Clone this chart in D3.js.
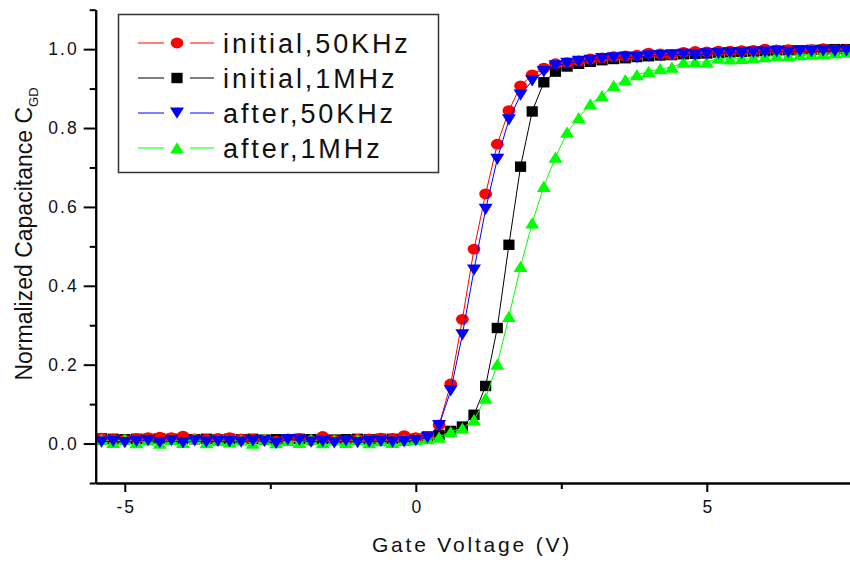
<!DOCTYPE html>
<html>
<head>
<meta charset="utf-8">
<script src="https://cdn.jsdelivr.net/npm/d3@7"></script>
<style>
  html, body { margin: 0; padding: 0; background: #fff; }
  svg { display: block; font-family: "Liberation Sans", Arial, sans-serif; }
</style>
</head>
<body>
<svg id="chart" width="850" height="563"></svg>
<script>
// Gate voltage sweep (V)
const gateVoltage = [
  -5.4,-5.2,-5.0,-4.8,-4.6,-4.4,-4.2,-4.0,-3.8,-3.6,-3.4,-3.2,-3.0,-2.8,-2.6,-2.4,-2.2,-2.0,-1.8,-1.6,-1.4,-1.2,-1.0,-0.8,-0.6,-0.4,-0.2,
  0.0,0.2,0.4,0.6,0.8,1.0,1.2,1.4,1.6,1.8,2.0,2.2,2.4,2.6,2.8,3.0,3.2,3.4,3.6,3.8,4.0,4.2,4.4,4.6,4.8,5.0,5.2,5.4,5.6,5.8,6.0,6.2,6.4,6.6,6.8,7.0,7.2,7.4
];

// Normalized C_GD per measurement
const initial50k = [
  0.014,0.012,0.010,0.013,0.015,0.016,0.015,0.019,0.012,0.011,0.013,0.015,0.012,0.011,0.009,0.006,0.012,0.013,0.008,0.018,0.009,0.008,0.011,0.012,0.014,0.013,0.020,
  0.015,0.016,0.047,0.151,0.315,0.493,0.633,0.759,0.844,0.907,0.935,0.952,0.963,0.966,0.970,0.975,0.978,0.981,0.983,0.985,0.990,0.988,0.986,0.992,0.994,0.993,0.995,0.995,0.996,0.997,1.000,0.998,0.999,0.996,0.999,1.001,0.998,0.999
];
const initial1M = [
  0.013,0.012,0.011,0.012,0.012,0.013,0.012,0.012,0.011,0.012,0.011,0.012,0.011,0.012,0.010,0.011,0.011,0.012,0.011,0.012,0.010,0.011,0.012,0.011,0.012,0.012,0.013,
  0.012,0.018,0.022,0.032,0.043,0.073,0.146,0.293,0.504,0.702,0.842,0.916,0.943,0.956,0.963,0.968,0.972,0.975,0.977,0.980,0.982,0.984,0.985,0.987,0.988,0.989,0.991,0.992,0.993,0.994,0.995,0.996,0.997,0.997,0.998,0.999,1.000,1.000
];
const after50k = [
  0.004,0.006,0.003,0.006,0.008,0.003,0.008,0.002,0.007,0.004,0.006,0.005,0.004,0.007,0.006,0.001,0.010,0.009,0.004,0.006,0.002,0.007,0.003,0.005,0.006,0.004,0.005,
  0.008,0.015,0.046,0.134,0.276,0.440,0.594,0.721,0.821,0.884,0.920,0.943,0.958,0.964,0.969,0.972,0.976,0.978,0.980,0.979,0.983,0.984,0.986,0.987,0.985,0.988,0.989,0.991,0.990,0.992,0.993,0.994,0.992,0.995,0.994,0.996,0.995,0.996
];
const after1M = [
  0.010,0.003,0.011,0.002,0.009,0.001,0.010,0.003,0.013,0.002,0.008,0.004,0.009,0.001,0.011,0.002,0.008,0.003,0.011,0.002,0.009,0.003,0.010,0.002,0.007,0.003,0.008,
  0.010,0.012,0.016,0.030,0.039,0.060,0.115,0.201,0.322,0.449,0.559,0.652,0.726,0.789,0.826,0.861,0.882,0.908,0.922,0.935,0.943,0.950,0.954,0.967,0.968,0.967,0.977,0.975,0.976,0.978,0.981,0.984,0.983,0.986,0.987,0.989,0.990,0.992
];

const seriesNames = ["initial,50KHz", "initial,1MHz", "after,50KHz", "after,1MHz"];
const seriesColors = ["#ff0000", "#000000", "#0000ff", "#00ff00"];
const seriesShapes = ["circle", "square", "triangleDown", "triangleUp"];
const seriesValues = [initial50k, initial1M, after50k, after1M];

const xMajorTicks = [-5, 0, 5];
const xMinorTicks = [-2.5, 2.5];
const yMajorTicks = [0.0, 0.2, 0.4, 0.6, 0.8, 1.0];
const yMinorTicks = [-0.1, 0.1, 0.3, 0.5, 0.7, 0.9, 1.1];

const svg = d3.select("#chart");
const plot = { left: 95.7, right: 852.3, top: 9.7, bottom: 483 };

const x = d3.scaleLinear().domain([-5.5, 7.5]).range([plot.left, plot.right]);
const y = d3.scaleLinear().domain([-0.1, 1.1]).range([plot.bottom, plot.top]);

// marker shapes
function marker(sel, shape, color) {
  if (shape === "circle") {
    sel.append("ellipse").attr("rx", 6.4).attr("ry", 5.4).attr("fill", color);
  } else if (shape === "square") {
    sel.append("rect").attr("x", -5.6).attr("y", -5.2).attr("width", 11.2).attr("height", 10.4).attr("fill", color);
  } else if (shape === "triangleDown") {
    sel.append("path").attr("d", "M-7,-5.5L7,-5.5L0,5.8Z").attr("fill", color);
  } else {
    sel.append("path").attr("d", "M-7,5.5L7,5.5L0,-5.8Z").attr("fill", color);
  }
}

// data series: connecting lines then markers
const drawOrder = [1, 0, 3, 2];
svg.append("defs").append("clipPath").attr("id", "plotclip")
  .append("rect").attr("x", plot.left).attr("y", 0).attr("width", 850 - plot.left).attr("height", plot.bottom);

const dataLayer = svg.append("g").attr("clip-path", "url(#plotclip)");
const line = d3.line().x(d => x(d[0])).y(d => y(d[1]));

drawOrder.forEach(si => {
  const pts = gateVoltage.map((v, i) => [v, seriesValues[si][i]]);
  const g = dataLayer.append("g");
  g.append("path").datum(pts).attr("d", line)
    .attr("fill", "none").attr("stroke", seriesColors[si]).attr("stroke-width", 1);
  g.selectAll("g.pt").data(pts).join("g").attr("class", "pt")
    .attr("transform", d => `translate(${x(d[0])},${y(d[1])})`)
    .each(function () { marker(d3.select(this), seriesShapes[si], seriesColors[si]); });
});

// axes
function styleAxis(g) {
  g.select(".domain").attr("stroke", "#000").attr("stroke-width", 2);
  g.selectAll(".tick line").attr("stroke", "#000").attr("stroke-width", 2);
  g.selectAll(".tick text").attr("fill", "#111").attr("font-size", 17.5)
    .attr("font-family", "'Liberation Sans', Arial, sans-serif").style("letter-spacing", "2px");
}

const xAxisMinor = svg.append("g").attr("transform", `translate(0,${plot.bottom})`)
  .call(d3.axisBottom(x).tickValues(xMinorTicks).tickSize(6).tickSizeOuter(0).tickFormat(""));
styleAxis(xAxisMinor);
const xAxis = svg.append("g").attr("transform", `translate(0,${plot.bottom})`)
  .call(d3.axisBottom(x).tickValues(xMajorTicks).tickSize(9).tickPadding(9).tickSizeOuter(0)
    .tickFormat(d => String(d)));
styleAxis(xAxis);
xAxis.selectAll(".tick text").attr("dx", "1px");

const yAxisMinor = svg.append("g").attr("transform", `translate(${plot.left},0)`)
  .call(d3.axisLeft(y).tickValues(yMinorTicks).tickSize(6).tickSizeOuter(0).tickFormat(""));
styleAxis(yAxisMinor);
const yAxis = svg.append("g").attr("transform", `translate(${plot.left},0)`)
  .call(d3.axisLeft(y).tickValues(yMajorTicks).tickSize(12).tickPadding(5).tickSizeOuter(0).tickFormat(d3.format(".1f")));
styleAxis(yAxis);

// axis titles
svg.append("text")
  .attr("x", 472).attr("y", 552).attr("text-anchor", "middle")
  .attr("font-size", 21).attr("fill", "#111").style("letter-spacing", "2.8px")
  .text("Gate Voltage (V)");

const yTitle = svg.append("text")
  .attr("transform", "translate(32,234) rotate(-90)")
  .attr("text-anchor", "middle").attr("font-size", 23).attr("fill", "#111");
yTitle.append("tspan").text("Normalized Capacitance C");
yTitle.append("tspan").attr("font-size", 13).attr("dy", 6).text("GD");

// legend
const legend = svg.append("g");
legend.append("rect").attr("x", 118.5).attr("y", 14.5).attr("width", 320).attr("height", 158)
  .attr("fill", "#fff").attr("stroke", "#333").attr("stroke-width", 1.5);
seriesNames.forEach((name, i) => {
  const cy = 43 + i * 35;
  const row = legend.append("g");
  row.append("line").attr("x1", 138).attr("x2", 164).attr("y1", cy).attr("y2", cy)
    .attr("stroke", seriesColors[i]).attr("stroke-width", 1);
  row.append("line").attr("x1", 190).attr("x2", 214).attr("y1", cy).attr("y2", cy)
    .attr("stroke", seriesColors[i]).attr("stroke-width", 1);
  const m = row.append("g").attr("transform", `translate(177,${cy})`);
  marker(m, seriesShapes[i], seriesColors[i]);
  row.append("text").attr("x", 223).attr("y", cy + 10)
    .attr("font-size", 27).attr("fill", "#111").style("letter-spacing", "2.9px")
    .text(name);
});
</script>
</body>
</html>
